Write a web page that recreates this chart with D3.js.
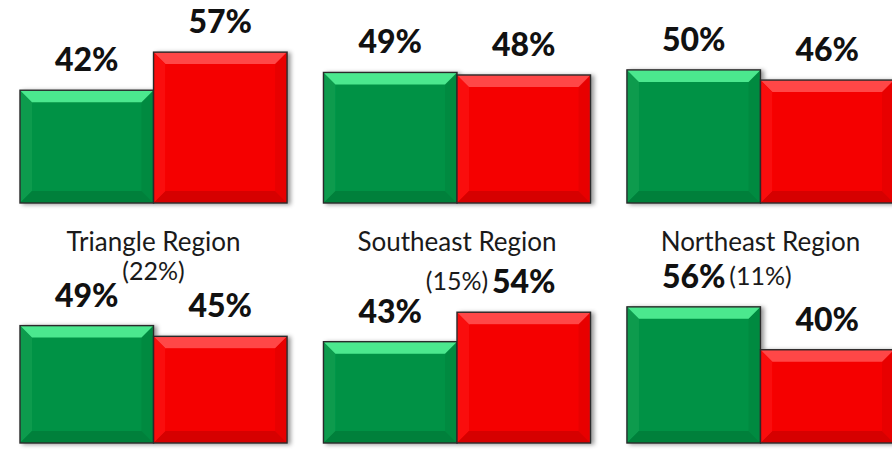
<!DOCTYPE html>
<html>
<head>
<meta charset="utf-8">
<script src="https://cdn.jsdelivr.net/npm/d3@7"></script>
<style>
  body { margin: 0; background: #fff; }
  svg { display: block; font-family: Lato, "Open Sans", sans-serif; }
</style>
</head>
<body>
<svg id="chart" width="892" height="455"></svg>
<script>
// data, one entry per panel (top row first, left to right)
const regions = ["", "", "", "Triangle Region", "Southeast Region", "Northeast Region"];
const shares = ["", "", "", "(22%)", "(15%)", "(11%)"];
const greenValues = [42, 49, 50, 49, 43, 56];
const redValues = [57, 48, 46, 45, 54, 40];
const seriesKeys = ["green", "red"];

// layout
const bevel = 12,
    titleY = 251,
    shareDy = [0, 0, 0, 29, 39, 34];

const palette = {
    green: { main: "#039245", top: "#4be88e", left: "#0a9b4e", right: "#038a41", bottom: "#02803a" },
    red:   { main: "#f50000", top: "#ff4646", left: "#fa0a0a", right: "#e80000", bottom: "#d60000" }
};

const svg = d3.select("#chart");

const defs = svg.append("defs");
defs.append("filter").attr("id", "shadow")
    .attr("x", "-10%").attr("y", "-10%").attr("width", "130%").attr("height", "130%")
    .append("feDropShadow")
    .attr("dx", 3).attr("dy", 1).attr("stdDeviation", 2)
    .attr("flood-color", "#000").attr("flood-opacity", 0.4);

const col = d3.scaleBand().domain([0, 1, 2]).range([20, 894]).paddingInner(0.12);
const inner = d3.scaleBand().domain(seriesKeys).range([0, col.bandwidth()]);

// each row has its own baseline and stretch
const rowY = [
    d3.scaleLinear().domain([-2.4, 100]).range([203, 203 - 102.4 * 2.54]),
    d3.scaleLinear().domain([5.2, 100]).range([443, 443 - 94.8 * 2.68])
];
const rowBase = [203, 443];

const panels = regions.map((r, i) => ({
    i, row: Math.floor(i / 3), col: i % 3,
    region: r, share: shares[i],
    bars: [
        { key: "green", value: greenValues[i] },
        { key: "red", value: redValues[i] }
    ]
}));

const panel = svg.selectAll(".panel")
    .data(panels)
    .enter().append("g")
    .attr("class", "panel")
    .attr("transform", d => `translate(${col(d.col)},0)`);

function bevelPaths(x, y, w, h) {
    const b = bevel;
    return {
        top: [[x, y], [x + w, y], [x + w - b, y + b], [x + b, y + b]],
        left: [[x, y], [x + b, y + b], [x + b, y + h - b], [x, y + h]],
        right: [[x + w, y], [x + w - b, y + b], [x + w - b, y + h - b], [x + w, y + h]],
        bottom: [[x, y + h], [x + b, y + h - b], [x + w - b, y + h - b], [x + w, y + h]]
    };
}

const barG = panel.append("g").attr("filter", "url(#shadow)");

barG.each(function(p) {
    const g = d3.select(this);
    const y = rowY[p.row];
    p.bars.forEach(bar => {
        const x0 = inner(bar.key), w = inner.bandwidth();
        const y0 = y(bar.value), h = rowBase[p.row] - y0;
        const c = palette[bar.key];
        const bg = g.append("g").attr("class", "bar " + bar.key);
        bg.append("rect")
            .attr("x", x0).attr("y", y0).attr("width", w).attr("height", h)
            .attr("fill", c.main);
        const sides = bevelPaths(x0, y0, w, h);
        ["left", "right", "bottom", "top"].forEach(s => {
            bg.append("polygon")
                .attr("points", sides[s].map(pt => pt.join(",")).join(" "))
                .attr("fill", c[s]);
        });
        bg.append("rect")
            .attr("x", x0).attr("y", y0).attr("width", w).attr("height", h)
            .attr("fill", "none").attr("stroke", "#2b2b2b").attr("stroke-width", 1.4);
    });
});

// value labels
panel.selectAll(".value")
    .data(p => p.bars.map(b => ({ ...b, row: p.row })))
    .enter().append("text")
    .attr("class", "value")
    .attr("x", d => inner(d.key) + inner.bandwidth() / 2)
    .attr("y", d => rowY[d.row](d.value) - 19)
    .attr("text-anchor", "middle")
    .attr("font-size", 32)
    .attr("font-weight", 900)
    .attr("fill", "#111")
    .text(d => d.value + "%");

// region titles
panel.filter(d => d.region).append("text")
    .attr("x", col.bandwidth() / 2)
    .attr("y", titleY)
    .attr("text-anchor", "middle")
    .attr("font-size", 26)
    .attr("fill", "#1a1a1a")
    .text(d => d.region);

panel.filter(d => d.share).append("text")
    .attr("x", col.bandwidth() / 2)
    .attr("y", d => titleY + shareDy[d.i])
    .attr("text-anchor", "middle")
    .attr("font-size", 25)
    .attr("fill", "#1a1a1a")
    .text(d => d.share);
</script>
</body>
</html>
